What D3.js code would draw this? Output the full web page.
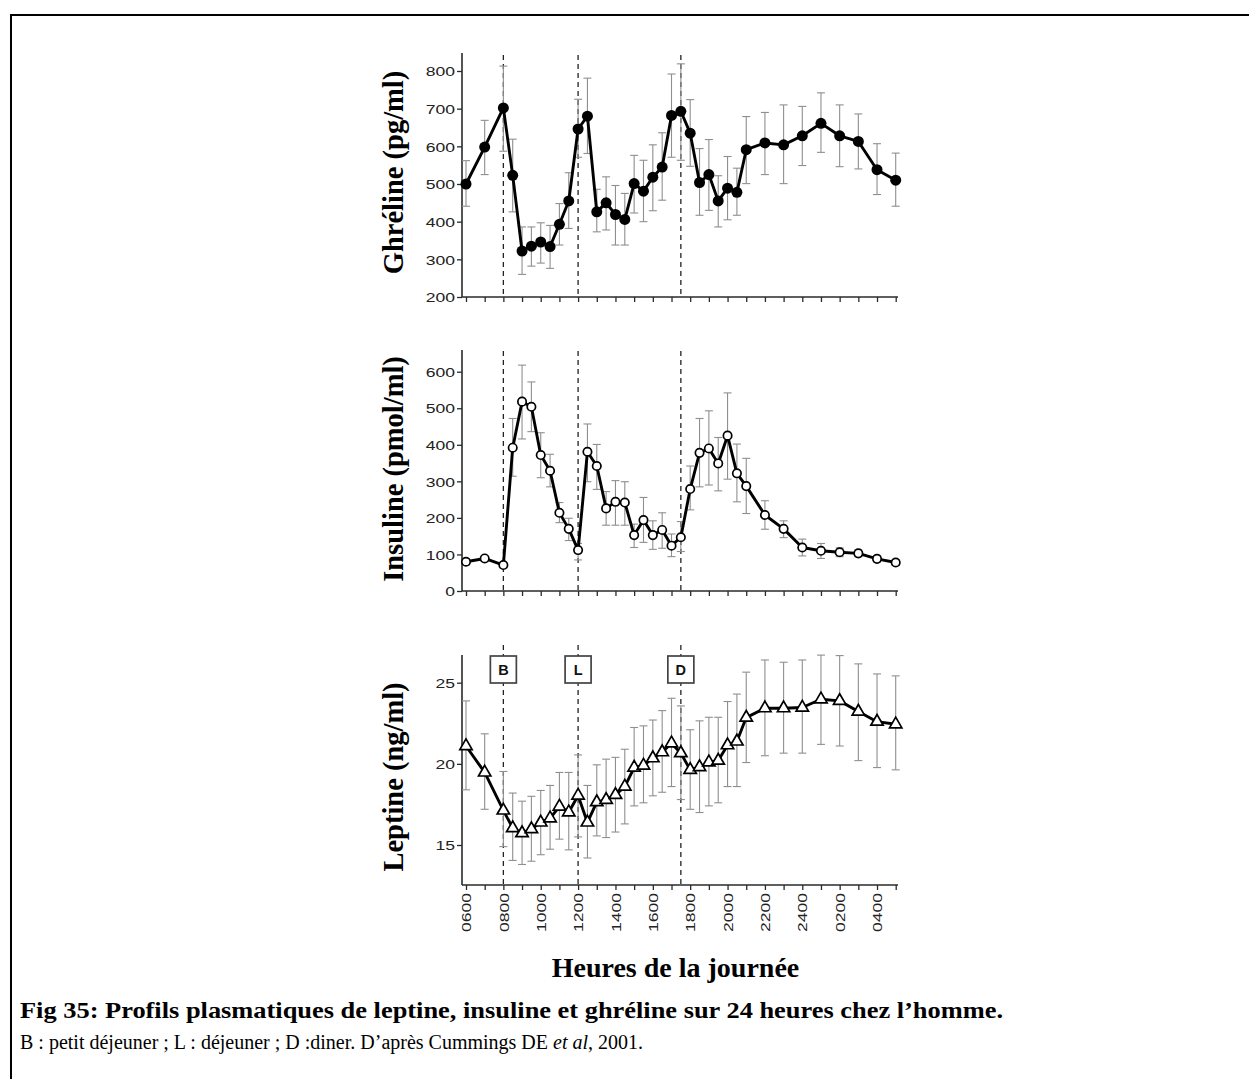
<!DOCTYPE html>
<html>
<head>
<meta charset="utf-8">
<script src="https://cdn.jsdelivr.net/npm/d3@7"></script>
<style>
  html, body { margin: 0; padding: 0; background: #fff; }
  svg { display: block; }
</style>
</head>
<body>
<svg id="fig" width="1249" height="1079"></svg>
<script>
// Sampling times, in hours from midnight of day 1 (29 = 05:00 next day)
const hours = [6, 7, 8, 8.5, 9, 9.5, 10, 10.5, 11, 11.5, 12, 12.5, 13, 13.5, 14, 14.5,
  15, 15.5, 16, 16.5, 17, 17.5, 18, 18.5, 19, 19.5, 20, 20.5, 21, 22, 23, 24, 25, 26, 27, 28, 29];

// Hour ticks and their labels
const hourTicks = [6, 7, 8, 9, 10, 11, 12, 13, 14, 15, 16, 17, 18, 19, 20, 21, 22, 23, 24, 25, 26, 27, 28, 29];
const labelledHours = [6, 8, 10, 12, 14, 16, 18, 20, 22, 24, 26, 28];
const hourLabels = ["0600", "0800", "1000", "1200", "1400", "1600", "1800", "2000", "2200", "2400", "0200", "0400"];

// Meals: breakfast, lunch, dinner
const mealLabels = ["B", "L", "D"];
const mealHours = [8, 12, 17.5];

// Ghrelin (pg/ml): mean, upper and lower ends of the error bars
const ghrelinMean = [500, 598, 702, 523, 322, 335, 346, 334, 393, 455, 646, 680, 426, 450, 419, 406,
  501, 481, 518, 545, 682, 693, 635, 504, 525, 455, 489, 478, 591, 609, 604, 628, 661, 628, 613, 538, 510];
const ghrelinHigh = [562, 669, 813, 619, 386, 386, 397, 390, 448, 530, 725, 781, 486, 519, 496, 475,
  576, 563, 604, 636, 792, 819, 724, 594, 618, 522, 573, 542, 679, 690, 710, 706, 742, 710, 686, 607, 582];
const ghrelinLow = [441, 525, 587, 426, 260, 282, 290, 276, 338, 382, 571, 581, 373, 378, 338, 338,
  423, 400, 429, 457, 571, 563, 547, 417, 430, 386, 405, 417, 501, 525, 501, 549, 584, 546, 540, 472, 441];
const ghrelinTicks = [200, 300, 400, 500, 600, 700, 800];

// Insulin (pmol/ml)
const insulinMean = [80, 89, 71, 392, 518, 504, 372, 329, 214, 170, 112, 381, 342, 226, 244, 242,
  153, 194, 153, 167, 124, 147, 279, 378, 390, 349, 425, 322, 287, 208, 170, 119, 110, 106, 103, 88, 78];
const insulinHigh = [88, 96, 78, 472, 618, 572, 433, 374, 242, 199, 130, 457, 401, 272, 302, 299,
  183, 256, 192, 214, 156, 190, 342, 472, 493, 420, 542, 402, 363, 247, 192, 142, 130, 118, 112, 96, 86];
const insulinLow = [72, 82, 64, 314, 416, 436, 310, 285, 187, 138, 85, 299, 278, 180, 180, 180,
  119, 133, 114, 117, 94, 108, 222, 285, 290, 274, 306, 244, 212, 169, 146, 96, 89, 94, 94, 80, 70];
const insulinTicks = [0, 100, 200, 300, 400, 500, 600];

// Leptin (ng/ml)
const leptinMean = [21.1, 19.47, 17.13, 16.04, 15.73, 15.98, 16.39, 16.65, 17.37, 17.02, 18.05, 16.39,
  17.64, 17.78, 18.09, 18.6, 19.77, 19.9, 20.35, 20.72, 21.27, 20.66, 19.63, 19.8, 20.1, 20.2, 21.15,
  21.38, 22.85, 23.43, 23.43, 23.47, 23.98, 23.88, 23.22, 22.6, 22.44];
const leptinHigh = [23.88, 21.85, 19.53, 18.2, 17.7, 18.0, 18.36, 18.67, 19.47, 19.47, 20.55, 18.67,
  19.94, 20.29, 20.4, 20.9, 22.24, 22.34, 22.7, 23.28, 24.04, 23.57, 22.1, 22.65, 22.87, 22.87, 23.84,
  24.3, 25.65, 26.4, 26.26, 26.4, 26.7, 26.67, 26.16, 25.54, 25.42];
const leptinLow = [18.4, 17.2, 14.9, 14.05, 13.8, 14.0, 14.4, 14.74, 15.36, 14.7, 15.5, 14.2,
  15.56, 15.46, 15.8, 16.3, 17.41, 17.6, 18.03, 18.25, 18.6, 17.8, 17.2, 17.0, 17.41, 17.6, 18.6,
  18.6, 20.08, 20.5, 20.66, 20.66, 21.2, 21.1, 20.2, 19.77, 19.63];
const leptinTicks = [15, 20, 25];

const svg = d3.select("#fig");
const SANS = "'Liberation Sans', Arial, sans-serif";
const SERIF = "'Liberation Serif', 'Times New Roman', serif";
const AXIS_COLOR = "#2a2a2a";

// Frame around the figure
svg.append("rect")
  .attr("x", 11).attr("y", 15).attr("width", 1400).attr("height", 1200)
  .attr("fill", "none").attr("stroke", "#000").attr("stroke-width", 2);

// Shared time scale
const x = d3.scaleLinear().domain([6, 29]).range([466, 895.7]);
const xLeft = 462, xRight = 898;

const panels = [
  { title: "Ghréline (pg/ml)", mean: ghrelinMean, high: ghrelinHigh, low: ghrelinLow, ticks: ghrelinTicks,
    domain: [200, 800], range: [297, 71], top: 53, dashTop: 55, marker: "dot", titleY: 172.5 },
  { title: "Insuline (pmol/ml)", mean: insulinMean, high: insulinHigh, low: insulinLow, ticks: insulinTicks,
    domain: [0, 600], range: [591, 371.7], top: 350, dashTop: 351, marker: "ring", titleY: 469 },
  { title: "Leptine (ng/ml)", mean: leptinMean, high: leptinHigh, low: leptinLow, ticks: leptinTicks,
    domain: [15, 25], range: [845, 682.7], top: 655, dashTop: 645, marker: "triangle", titleY: 777,
    base: 885, labels: true, meals: true }
];

panels.forEach(p => {
  const y = d3.scaleLinear().domain(p.domain).range(p.range);
  const base = p.base !== undefined ? p.base : p.range[0];
  const g = svg.append("g");

  // Meal times as dashed verticals
  g.selectAll("line.meal").data(mealHours).join("line")
    .attr("class", "meal")
    .attr("x1", d => x(d)).attr("x2", d => x(d))
    .attr("y1", p.dashTop).attr("y2", base)
    .attr("stroke", "#222").attr("stroke-width", 1.3).attr("stroke-dasharray", "5,4");

  // Y axis
  const yAxis = d3.axisLeft(y).tickValues(p.ticks).tickSize(5).tickSizeOuter(0);
  const ya = g.append("g").attr("transform", `translate(${xLeft},0)`).call(yAxis);
  ya.select(".domain").remove();
  ya.selectAll(".tick line").attr("stroke", AXIS_COLOR).attr("stroke-width", 1.3);
  ya.selectAll(".tick text")
    .attr("x", null).attr("dy", "0.36em")
    .attr("transform", "translate(-7,0) scale(1.35,1)")
    .attr("font-family", SANS).attr("font-size", 13).attr("fill", "#222");
  g.append("line").attr("x1", xLeft).attr("x2", xLeft).attr("y1", p.top).attr("y2", base)
    .attr("stroke", AXIS_COLOR).attr("stroke-width", 1.6);

  // X axis (hour ticks)
  const xAxis = d3.axisBottom(x).tickValues(hourTicks).tickSize(5).tickSizeOuter(0)
    .tickFormat(d => {
      const i = labelledHours.indexOf(d);
      return p.labels && i >= 0 ? hourLabels[i] : "";
    });
  const xa = g.append("g").attr("transform", `translate(0,${base})`).call(xAxis);
  xa.select(".domain").remove();
  xa.selectAll(".tick line").attr("stroke", AXIS_COLOR).attr("stroke-width", 1.3);
  xa.selectAll(".tick text")
    .attr("y", null).attr("dy", "0.36em")
    .attr("text-anchor", "end")
    .attr("transform", "translate(0,8) rotate(-90) scale(1.35,1)")
    .attr("font-family", SANS).attr("font-size", 13).attr("fill", "#222");
  g.append("line").attr("x1", xLeft).attr("x2", xRight).attr("y1", base).attr("y2", base)
    .attr("stroke", AXIS_COLOR).attr("stroke-width", 1.6);

  // Error bars
  const idx = d3.range(hours.length);
  const eb = g.append("g").attr("stroke", "#8f8f8f").attr("stroke-width", 1.1).attr("fill", "none");
  eb.selectAll("line.v").data(idx).join("line").attr("class", "v")
    .attr("x1", i => x(hours[i])).attr("x2", i => x(hours[i]))
    .attr("y1", i => y(p.high[i])).attr("y2", i => y(p.low[i]));
  eb.selectAll("line.hi").data(idx).join("line").attr("class", "hi")
    .attr("x1", i => x(hours[i]) - 4).attr("x2", i => x(hours[i]) + 4)
    .attr("y1", i => y(p.high[i])).attr("y2", i => y(p.high[i]));
  eb.selectAll("line.lo").data(idx).join("line").attr("class", "lo")
    .attr("x1", i => x(hours[i]) - 4).attr("x2", i => x(hours[i]) + 4)
    .attr("y1", i => y(p.low[i])).attr("y2", i => y(p.low[i]));

  // Mean profile
  const line = d3.line().x((d, i) => x(hours[i])).y(d => y(d));
  g.append("path").datum(p.mean).attr("d", line)
    .attr("fill", "none").attr("stroke", "#000").attr("stroke-width", 2.9)
    .attr("stroke-linejoin", "round");

  // Markers
  if (p.marker === "dot") {
    g.selectAll("circle.m").data(p.mean).join("circle").attr("class", "m")
      .attr("cx", (d, i) => x(hours[i])).attr("cy", d => y(d)).attr("r", 5.5)
      .attr("fill", "#000");
  } else if (p.marker === "ring") {
    g.selectAll("circle.m").data(p.mean).join("circle").attr("class", "m")
      .attr("cx", (d, i) => x(hours[i])).attr("cy", d => y(d)).attr("r", 4.2)
      .attr("fill", "#fff").attr("stroke", "#000").attr("stroke-width", 1.7);
  } else {
    const tri = d3.symbol().type(d3.symbolTriangle).size(66);
    g.selectAll("path.m").data(p.mean).join("path").attr("class", "m")
      .attr("d", tri)
      .attr("transform", (d, i) => `translate(${x(hours[i])},${y(d)})`)
      .attr("fill", "#fff").attr("stroke", "#000").attr("stroke-width", 1.7);
  }

  // Meal boxes
  if (p.meals) {
    const mb = g.selectAll("g.mealbox").data(mealHours).join("g").attr("class", "mealbox")
      .attr("transform", d => `translate(${x(d)},669.5)`);
    mb.append("rect").attr("x", -13).attr("y", -13.5).attr("width", 26).attr("height", 27)
      .attr("fill", "#fff").attr("stroke", "#444").attr("stroke-width", 1.7);
    mb.append("text").text((d, i) => mealLabels[i])
      .attr("text-anchor", "middle").attr("dy", "0.36em")
      .attr("font-family", SANS).attr("font-weight", "bold").attr("font-size", 14.5).attr("fill", "#111");
  }

  // Y axis title
  svg.append("text")
    .attr("transform", `translate(403,${p.titleY}) rotate(-90)`)
    .attr("text-anchor", "middle")
    .attr("font-family", SERIF).attr("font-weight", "bold").attr("font-size", 28.5).attr("fill", "#000")
    .text(p.title);
});

// X axis title
svg.append("text")
  .attr("x", 675.5).attr("y", 977)
  .attr("text-anchor", "middle")
  .attr("font-family", SERIF).attr("font-weight", "bold").attr("font-size", 28).attr("fill", "#000")
  .text("Heures de la journée");

// Figure caption
svg.append("text")
  .attr("x", 20).attr("y", 1018)
  .attr("font-family", SERIF).attr("font-weight", "bold").attr("font-size", 24).attr("fill", "#000")
  .attr("textLength", 983).attr("lengthAdjust", "spacingAndGlyphs")
  .text("Fig 35: Profils plasmatiques de leptine, insuline et ghréline sur 24 heures chez l’homme.");

const note = svg.append("text")
  .attr("x", 20).attr("y", 1049)
  .attr("font-family", SERIF).attr("font-size", 20).attr("fill", "#000");
note.append("tspan").text("B : petit déjeuner ; L : déjeuner ; D :diner. D’après Cummings DE ");
note.append("tspan").attr("font-style", "italic").text("et al");
note.append("tspan").text(", 2001.");
</script>
</body>
</html>
